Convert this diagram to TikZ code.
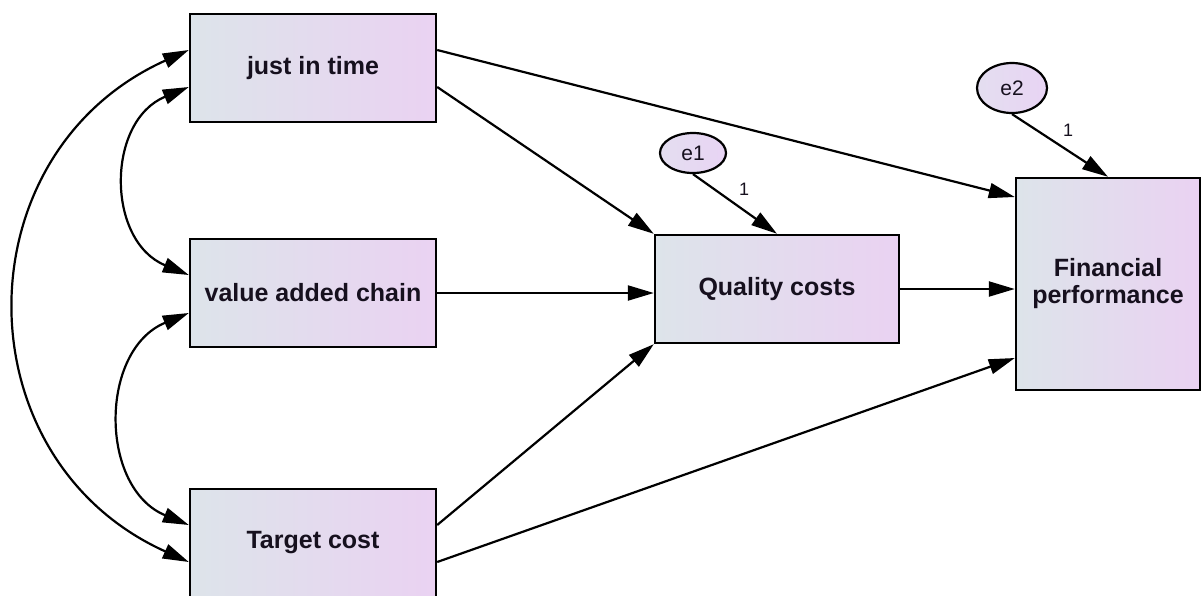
\documentclass[tikz,border=0pt]{standalone}
\usepackage{fontspec}
\newfontfamily\lblfont{Liberation Sans}
\usetikzlibrary{arrows.meta,shapes.geometric}
\definecolor{boxL}{RGB}{221,228,234}
\definecolor{boxR}{RGB}{234,210,242}
\definecolor{ellL}{RGB}{228,222,240}
\definecolor{ellR}{RGB}{232,212,244}
\definecolor{txt}{RGB}{22,16,30}
\begin{document}
\begin{tikzpicture}[x=1pt,y=-1pt,
  var/.style={draw=black, line width=2.4pt, rectangle, left color=boxL, right color=boxR,
    minimum width=246pt, minimum height=108pt, inner sep=0pt, align=center,
    font=\lblfont\bfseries\fontsize{25}{27}\selectfont, text=txt},
  err/.style={draw=black, line width=2.2pt, ellipse, left color=ellL, right color=ellR,
    inner sep=0pt, font=\lblfont\fontsize{21}{23}\selectfont, text=txt},
  conn/.style={line width=2.2pt, -{Triangle[length=26pt,width=15pt]}},
  cov/.style={line width=2.2pt, {Triangle[length=26pt,width=15pt]}-{Triangle[length=26pt,width=15pt]}},
  wt/.style={font=\lblfont\fontsize{18}{20}\selectfont, text=txt}
]
\useasboundingbox (0,0) rectangle (1202,595);

% observed variables
\node[var] (jit) at (313,68) {just in time};
\node[var] (vac) at (313,293) {value added chain};
\node[var] (tc)  at (313,543) {Target cost};
\node[var, minimum width=244pt] (qc) at (777,289) {Quality costs};
\node[var, minimum width=184pt, minimum height=212pt] (fp) at (1108,284) {Financial\\performance};

% error terms
\node[err, minimum width=66pt, minimum height=40pt] (e1) at (693,153) {e1};
\node[err, minimum width=70pt, minimum height=50pt] (e2) at (1012,88) {e2};

% regression paths
\draw[conn] ([yshift=18pt]jit.east) -- ([yshift=87pt]fp.west);
\draw[conn] ([yshift=-19pt]jit.east) -- (qc.north west);
\draw[conn] (vac.east) -- (vac.east -| qc.west);
\draw[conn] ([yshift=18pt]tc.east) -- (qc.south west);
\draw[conn] ([yshift=-19pt]tc.east) -- ([yshift=-74pt]fp.west);
\draw[conn] (qc.east) -- (qc.east -| fp.west);
\draw[conn] (e1.south) -- (qc.north);
\draw[conn] (e2.south) -- (fp.north);
\node[wt] (w1) at (744,189) {1};
\node[wt] (w2) at (1068,130) {1};

% covariances
\draw[cov] ([yshift=18pt]jit.west) .. controls (-40,153) and (-40,459) .. ([yshift=-19pt]tc.west);
\draw[cov] ([yshift=-19pt]jit.west) .. controls (106,121) and (106,241) .. ([yshift=18pt]vac.west);
\draw[cov] ([yshift=-20pt]vac.west) .. controls (99,350) and (99,488) .. ([yshift=18pt]tc.west);
\end{tikzpicture}
\end{document}
